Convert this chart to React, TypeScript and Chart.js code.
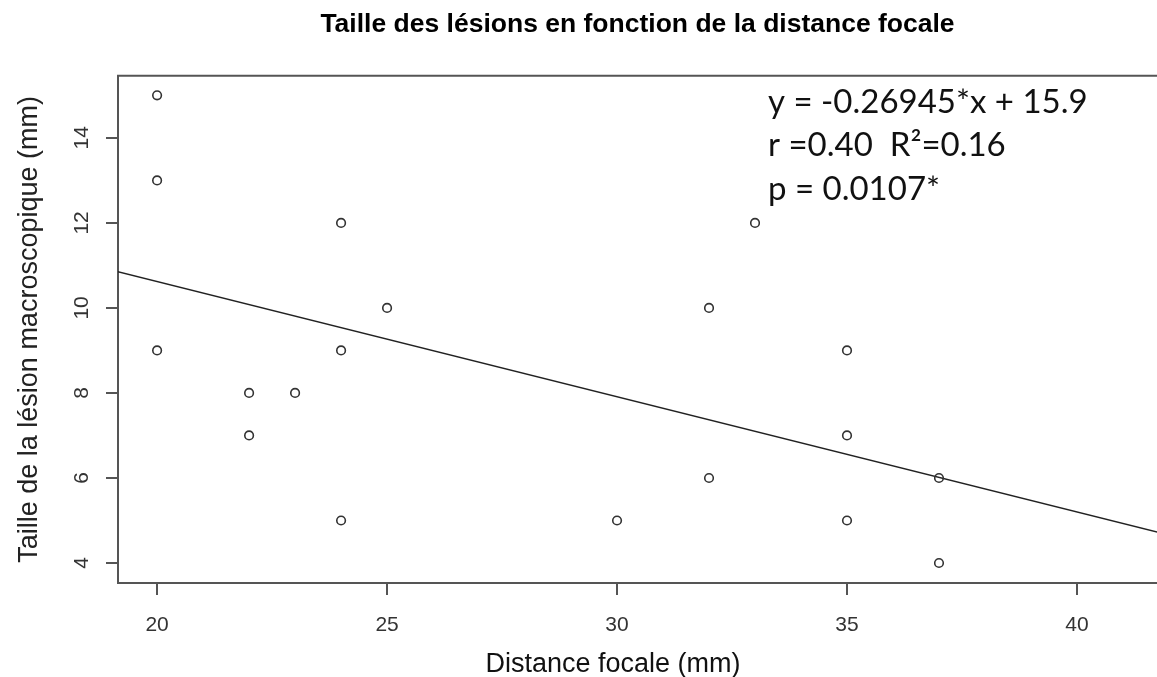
import React, { useEffect, useRef } from "react";
import { Chart, registerables } from "chart.js";

Chart.register(...registerables);

const chartTitle = "Taille des lésions en fonction de la distance focale";
const xAxisTitle = "Distance focale (mm)";
const yAxisTitle = "Taille de la lésion macroscopique (mm)";

const focalDistance = [20, 20, 20, 22, 22, 23, 24, 24, 24, 25, 30, 32, 32, 33, 35, 35, 35, 37, 37];
const lesionSize = [15, 13, 9, 8, 7, 8, 12, 9, 5, 10, 5, 10, 6, 12, 9, 7, 5, 6, 4];

const fitLineX = [19, 42];
const fitLineY = [10.89, 4.66];

const xTickValues = [20, 25, 30, 35, 40];
const yTickValues = [4, 6, 8, 10, 12, 14];

const annotationLines = ["y = -0.26945*x + 15.9", "r =0.40  R\u00B2=0.16", "p = 0.0107*"];

const X_MIN = 19.15;
const X_MAX = 41.74;
const Y_MIN = 3.53;
const Y_MAX = 15.46;

const SANS = '"Liberation Sans", Arial, Helvetica, sans-serif';
const AXIS_COLOR = "#555555";

const decorPlugin = {
  id: "decor",
  afterDraw(chart: any) {
    const { ctx, chartArea } = chart;
    const { left, top, right, bottom } = chartArea;
    ctx.save();
    // top border of the box
    ctx.strokeStyle = AXIS_COLOR;
    ctx.lineWidth = 2;
    ctx.beginPath();
    ctx.moveTo(left - 1, top);
    ctx.lineTo(right, top);
    ctx.stroke();

    // rotated y tick labels (R style)
    const ys = chart.scales.y;
    ctx.fillStyle = "#333333";
    ctx.font = `21px ${SANS}`;
    ctx.textAlign = "center";
    ctx.textBaseline = "alphabetic";
    yTickValues.forEach((v) => {
      const py = ys.getPixelForValue(v);
      ctx.save();
      ctx.translate(left - 30, py);
      ctx.rotate(-Math.PI / 2);
      ctx.fillText(String(v), 0, 0);
      ctx.restore();
    });

    // y axis title
    ctx.fillStyle = "#222222";
    ctx.font = `27px ${SANS}`;
    ctx.save();
    ctx.translate(left - 81, (top + bottom) / 2);
    ctx.rotate(-Math.PI / 2);
    ctx.fillText(yAxisTitle, 0, 0);
    ctx.restore();

    // x axis title
    ctx.fillStyle = "#111111";
    ctx.font = `27px ${SANS}`;
    ctx.fillText(xAxisTitle, 613, bottom + 89);

    // regression annotation
    ctx.fillStyle = "#111111";
    ctx.font = `33px Lato, "Open Sans", sans-serif`;
    ctx.textAlign = "left";
    annotationLines.forEach((line, i) => {
      ctx.fillText(line, 768, top + 37 + i * 43.5);
    });
    ctx.restore();
  },
};

export default function App() {
  const canvasRef = useRef<HTMLCanvasElement | null>(null);

  useEffect(() => {
    if (!canvasRef.current) return;
    const chart = new Chart(canvasRef.current, {
      type: "scatter",
      data: {
        datasets: [
          {
            label: "points",
            data: focalDistance.map((x, i) => ({ x, y: lesionSize[i] })),
            pointStyle: "circle",
            pointRadius: 4.3,
            pointBorderWidth: 1.6,
            borderColor: "#333333",
            backgroundColor: "rgba(0,0,0,0)",
            pointBackgroundColor: "rgba(0,0,0,0)",
            pointBorderColor: "#333333",
          },
          {
            label: "fit",
            data: fitLineX.map((x, i) => ({ x, y: fitLineY[i] })),
            showLine: true,
            pointRadius: 0,
            borderColor: "#222222",
            borderWidth: 1.5,
            fill: false,
          },
        ],
      },
      options: {
        animation: false,
        responsive: false,
        devicePixelRatio: 1,
        events: [],
        layout: { autoPadding: false, padding: { left: 0, right: 0, top: 0, bottom: 0 } },
        plugins: {
          legend: { display: false },
          tooltip: { enabled: false },
          title: {
            display: true,
            text: chartTitle,
            fullSize: false,
            color: "#000000",
            font: { family: SANS, size: 26.5, weight: "bold" },
            padding: { top: 9, bottom: 35 },
          },
        },
        scales: {
          x: {
            type: "linear",
            min: X_MIN,
            max: X_MAX,
            afterBuildTicks: (scale: any) => {
              scale.ticks = xTickValues.map((v) => ({ value: v }));
            },
            afterFit: (scale: any) => {
              scale.height = 94;
            },
            ticks: {
              color: "#333333",
              font: { family: SANS, size: 21 },
              padding: 18,
              maxRotation: 0,
              autoSkip: false,
            },
            grid: {
              display: true,
              drawOnChartArea: false,
              drawTicks: true,
              tickLength: 12,
              color: AXIS_COLOR,
              lineWidth: 2,
            },
            border: { display: true, color: AXIS_COLOR, width: 2 },
          },
          y: {
            type: "linear",
            min: Y_MIN,
            max: Y_MAX,
            afterBuildTicks: (scale: any) => {
              scale.ticks = yTickValues.map((v) => ({ value: v }));
            },
            afterFit: (scale: any) => {
              scale.width = 118;
            },
            ticks: { display: false },
            grid: {
              display: true,
              drawOnChartArea: false,
              drawTicks: true,
              tickLength: 12,
              color: AXIS_COLOR,
              lineWidth: 2,
            },
            border: { display: true, color: AXIS_COLOR, width: 2 },
          },
        },
      },
      plugins: [decorPlugin],
    } as any);
    return () => chart.destroy();
  }, []);

  return (
    <div style={{ position: "absolute", left: 0, top: 0, width: 1157, height: 677, background: "#ffffff" }}>
      <canvas ref={canvasRef} width={1157} height={677} style={{ display: "block" }} />
    </div>
  );
}
